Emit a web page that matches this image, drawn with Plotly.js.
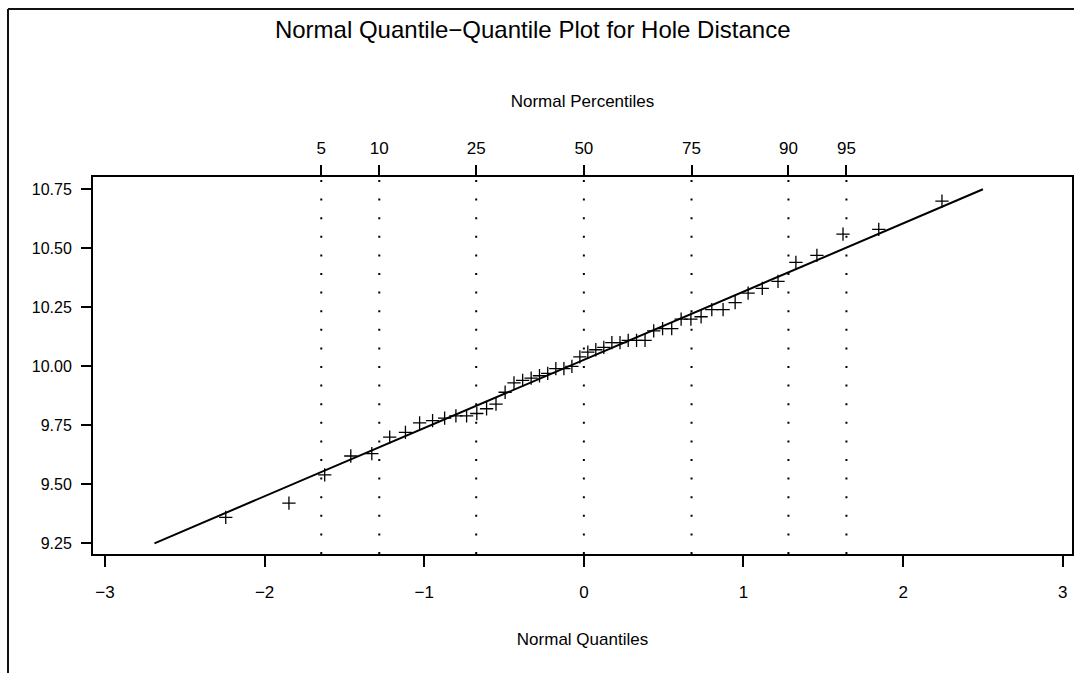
<!DOCTYPE html>
<html>
<head>
<meta charset="utf-8">
<script src="https://cdn.plot.ly/plotly-3.0.1.min.js"></script>
<style>
  html, body { margin: 0; padding: 0; background: #fff; }
  #chart { width: 1074px; height: 673px; }
</style>
</head>
<body>
<div id="chart"></div>
<script>
// Normal quantiles (Blom scores, n = 50) for the ordered hole distances
const normalQuantiles = [
  -2.2434, -1.8475, -1.6235, -1.4600, -1.3283, -1.2163, -1.1177, -1.0290, -0.9477, -0.8722,
  -0.8015, -0.7345, -0.6706, -0.6094, -0.5504, -0.4932, -0.4376, -0.3833, -0.3301, -0.2779,
  -0.2264, -0.1755, -0.1250, -0.0749, -0.0249, 0.0249, 0.0749, 0.1250, 0.1755, 0.2264,
  0.2779, 0.3301, 0.3833, 0.4376, 0.4932, 0.5504, 0.6094, 0.6706, 0.7345, 0.8015,
  0.8722, 0.9477, 1.0290, 1.1177, 1.2163, 1.3283, 1.4600, 1.6235, 1.8475, 2.2434
];

// Ordered hole distances
const holeDistance = [
  9.36, 9.42, 9.54, 9.62, 9.63, 9.70, 9.72, 9.76, 9.77, 9.78,
  9.79, 9.79, 9.80, 9.82, 9.84, 9.89, 9.93, 9.94, 9.95, 9.96,
  9.97, 9.99, 9.99, 10.00, 10.04, 10.06, 10.07, 10.08, 10.10, 10.10,
  10.11, 10.11, 10.11, 10.15, 10.16, 10.16, 10.20, 10.20, 10.21, 10.24,
  10.24, 10.27, 10.31, 10.33, 10.36, 10.44, 10.47, 10.56, 10.58, 10.70
];

// Reference line (mean 10.027, sigma 0.289) across the tick range
const refLineX = [-2.69, 2.50];
const refLineY = [9.25, 10.75];

// Percentile reference positions on the quantile scale
const percentileLabels = ['5', '10', '25', '50', '75', '90', '95'];
const percentileQuantiles = [-1.6449, -1.2816, -0.6745, 0, 0.6745, 1.2816, 1.6449];

const xTicks = [-3, -2, -1, 0, 1, 2, 3];
const yTicks = [9.25, 9.50, 9.75, 10.00, 10.25, 10.50, 10.75];

const FONT = '"Liberation Sans", Arial, Helvetica, sans-serif';
const W = 1074, H = 673;
const M = { l: 93, r: 2, t: 177, b: 119 };
const plotW = W - M.l - M.r, plotH = H - M.t - M.b;

// page frame (left and top rules) in paper units
const frameX = (8 - M.l) / plotW;
const frameY = 1 + (M.t - 9) / plotH;
const frameRight = 1 + M.r / plotW;
const frameBottom = -M.b / plotH;

const shapes = percentileQuantiles.map(q => ({
  type: 'line', xref: 'x', yref: 'paper',
  x0: q, x1: q, y0: 0, y1: 1,
  line: { color: '#000', width: 2, dash: '2px,16.6px' }
}));
shapes.push({
  type: 'line', xref: 'paper', yref: 'paper',
  x0: frameX, x1: frameX, y0: frameBottom, y1: frameY,
  line: { color: '#111', width: 2 }
});
shapes.push({
  type: 'line', xref: 'paper', yref: 'paper',
  x0: frameX, x1: frameRight, y0: frameY, y1: frameY,
  line: { color: '#111', width: 2 }
});

const traces = [
  {
    x: refLineX, y: refLineY, type: 'scatter', mode: 'lines',
    line: { color: '#000', width: 2 }, hoverinfo: 'skip', showlegend: false
  },
  {
    x: normalQuantiles, y: holeDistance, type: 'scatter', mode: 'markers',
    marker: { symbol: 'cross-thin-open', size: 9.5, color: '#000', line: { color: '#000', width: 1.3 } },
    showlegend: false
  },
  {
    // invisible carrier for the percentile axis on top
    x: percentileQuantiles, y: percentileQuantiles.map(() => 10), xaxis: 'x2', type: 'scatter',
    mode: 'markers', marker: { opacity: 0 }, hoverinfo: 'skip', showlegend: false
  }
];

const xRange = [-3.075, 3.058];
const yRange = [9.2047, 10.802];

const layout = {
  width: W, height: H,
  margin: M,
  paper_bgcolor: '#fff', plot_bgcolor: '#fff',
  font: { family: FONT, size: 16, color: '#000' },
  title: {
    text: 'Normal Quantile\u2212Quantile Plot for Hole Distance',
    font: { family: FONT, size: 24, color: '#000' },
    x: 0.496, xref: 'container', xanchor: 'center',
    y: 1 - 30 / H, yref: 'container', yanchor: 'middle'
  },
  xaxis: {
    range: xRange, tickvals: xTicks, ticktext: xTicks.map(v => v < 0 ? '\u2212' + Math.abs(v) : String(v)),
    ticks: 'outside', ticklen: 11, tickwidth: 2, tickcolor: '#000',
    ticklabelstandoff: 11,
    showline: true, linewidth: 2, linecolor: '#000', mirror: true,
    showgrid: false, zeroline: false,
    tickfont: { family: FONT, size: 17, color: '#000' },
    title: { text: 'Normal Quantiles', font: { family: FONT, size: 17, color: '#000' }, standoff: 32 }
  },
  xaxis2: {
    overlaying: 'x', matches: 'x', side: 'top', anchor: 'y',
    range: xRange, tickvals: percentileQuantiles, ticktext: percentileLabels,
    ticks: 'outside', ticklen: 11, tickwidth: 2, tickcolor: '#000',
    ticklabelstandoff: 4,
    showline: false, showgrid: false, zeroline: false,
    tickfont: { family: FONT, size: 17, color: '#000' },
    title: { text: 'Normal Percentiles', font: { family: FONT, size: 17, color: '#000' }, standoff: 27 }
  },
  yaxis: {
    range: yRange, tickvals: yTicks, ticktext: yTicks.map(v => v.toFixed(2)),
    ticks: 'outside', ticklen: 10, tickwidth: 2, tickcolor: '#000',
    ticklabelstandoff: 6,
    showline: true, linewidth: 2, linecolor: '#000', mirror: true,
    showgrid: false, zeroline: false,
    tickfont: { family: FONT, size: 16, color: '#000' }
  },
  shapes: shapes,
  showlegend: false
};

Plotly.newPlot('chart', traces, layout, { displayModeBar: false, staticPlot: true });
</script>
</body>
</html>
